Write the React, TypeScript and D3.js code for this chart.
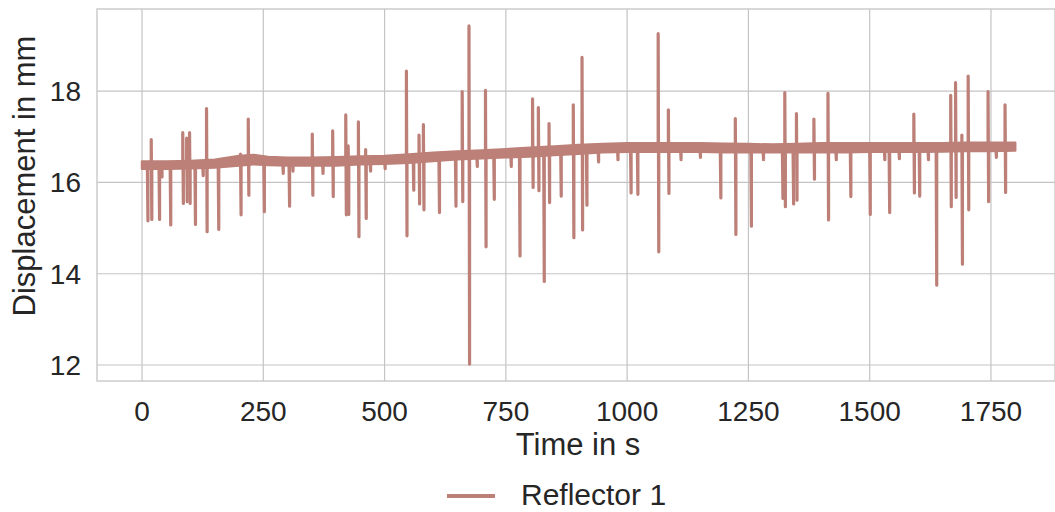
import React from 'react'
import * as d3 from 'd3'

// baseline noise envelope (time in s, displacement in mm)
const baseTimes = [0, 50, 100, 150, 200, 230, 260, 300, 350, 400, 450, 500, 550, 600, 650, 700, 750, 800, 850, 900, 950, 1000, 1050, 1100, 1150, 1200, 1250, 1300, 1350, 1400, 1450, 1500, 1550, 1600, 1650, 1700, 1750, 1800]
const baseLow = [16.3, 16.3, 16.31, 16.33, 16.37, 16.4, 16.38, 16.37, 16.37, 16.37, 16.4, 16.41, 16.43, 16.47, 16.51, 16.53, 16.55, 16.57, 16.6, 16.63, 16.66, 16.67, 16.67, 16.67, 16.67, 16.66, 16.66, 16.66, 16.66, 16.66, 16.66, 16.67, 16.67, 16.67, 16.68, 16.69, 16.69, 16.7]
const baseHigh = [16.46, 16.46, 16.47, 16.5, 16.58, 16.6, 16.56, 16.54, 16.54, 16.55, 16.57, 16.58, 16.61, 16.65, 16.68, 16.7, 16.73, 16.76, 16.79, 16.82, 16.84, 16.86, 16.86, 16.86, 16.86, 16.85, 16.84, 16.83, 16.84, 16.86, 16.86, 16.86, 16.86, 16.86, 16.86, 16.87, 16.87, 16.87]

// outlier spikes: time, peak above baseline (null = none), dip below baseline
const spikeTimes = [11, 19, 35, 40, 58, 84, 92, 98, 109, 125, 133, 157, 203, 219, 251, 290, 303, 310, 351, 372, 393, 420, 425, 446, 461, 470, 500, 545, 559, 571, 580, 612, 646, 660, 674, 690, 708, 725, 760, 778, 805, 817, 828, 839, 863, 889, 907, 916, 940, 980, 1007, 1021, 1064, 1085, 1110, 1150, 1192, 1223, 1255, 1280, 1320, 1325, 1342, 1349, 1385, 1414, 1430, 1460, 1500, 1530, 1540, 1560, 1591, 1602, 1620, 1637, 1667, 1677, 1690, 1703, 1744, 1760, 1779]
const spikeHigh = [null, 16.94, null, null, null, 17.09, 16.97, 17.09, null, null, 17.62, null, 16.62, 17.39, null, null, null, null, 17.06, null, 17.13, 17.48, 16.8, 17.33, 16.72, null, null, 18.44, null, 17.04, 17.27, null, null, 17.99, 19.43, null, 18.02, null, null, null, 17.83, 17.64, null, 17.29, null, 17.7, 18.74, null, null, null, null, null, 19.26, 17.59, null, null, null, 17.4, null, null, null, 17.97, null, 17.51, 17.39, 17.95, null, null, null, null, null, null, 17.5, null, null, null, 17.91, 18.19, 17.04, 18.33, 17.99, null, 17.7]
const spikeLow = [15.16, 15.19, 15.19, 16.12, 15.07, 15.54, 15.58, 15.54, 15.08, 16.15, 14.92, 14.97, 15.29, 15.72, 15.36, 16.2, 15.48, 16.25, 15.72, 16.2, 15.69, 15.29, 15.3, 14.81, 15.21, 16.25, 16.3, 14.83, 15.83, 15.53, 15.4, 15.34, 15.48, 15.58, 12.02, 16.35, 14.59, 15.63, 16.35, 14.39, 15.89, 15.82, 13.83, 15.56, 15.7, 14.79, 14.96, 15.5, 16.45, 16.5, 15.77, 15.74, 14.48, 15.76, 16.5, 16.55, 15.66, 14.86, 15.04, 16.5, 15.65, 15.47, 15.53, 15.61, 16.07, 15.18, 16.5, 15.69, 15.3, 16.5, 15.34, 16.52, 15.77, 15.7, 16.5, 13.75, 15.47, 15.67, 14.21, 15.4, 15.58, 16.55, 15.78]

const xTicks = [0, 250, 500, 750, 1000, 1250, 1500, 1750]
const yTicks = [12, 14, 16, 18]
const seriesName = 'Reflector 1'

const W = 1055
const H = 512
const left = 97
const right = 1055
const top = 9
const bottom = 381
const color = '#bd8078'
const ink = '#262626'
const font = 'Liberation Sans, Arial, sans-serif'

export default function App() {
  const x = d3.scaleLinear().domain([-92.8, 1882]).range([left, right])
  const y = d3.scaleLinear().domain([11.65, 19.8]).range([bottom, top])

  const band = d3.area<number>()
    .x(i => x(baseTimes[i]))
    .y0(i => y(baseLow[i]))
    .y1(i => y(baseHigh[i]))
  const bandPath = band(baseTimes.map((_, i) => i)) || ''

  // midpoint of the baseline band at time t
  const baseAt = (t: number) => {
    const j = Math.min(d3.bisectLeft(baseTimes, t), baseTimes.length - 1)
    return (baseLow[j] + baseHigh[j]) / 2
  }
  const line = d3.line<[number, number]>().x(d => x(d[0])).y(d => y(d[1]))

  return (
    <svg width={W} height={H} style={{ position: 'absolute', left: 0, top: 0, background: '#fff' }}>
      <rect x={left} y={top} width={right - left} height={bottom - top} fill="none" stroke="#cccccc" strokeWidth={1.5} />
      {xTicks.map(t => (
        <line key={'gx' + t} x1={x(t)} x2={x(t)} y1={top} y2={bottom} stroke="#c4c4c4" strokeWidth={1.2} />
      ))}
      {yTicks.map(t => (
        <line key={'gy' + t} x1={left} x2={right} y1={y(t)} y2={y(t)} stroke="#c4c4c4" strokeWidth={1.2} />
      ))}
      <path d={bandPath} fill={color} stroke={color} strokeWidth={2.5} strokeLinejoin="round" />
      {spikeTimes.map((t, i) => {
        const b = baseAt(t)
        const hi = spikeHigh[i] ?? b
        const pts: [number, number][] = [[t, b], [t, hi], [t + 1.2, spikeLow[i]], [t + 1.2, b]]
        return <path key={'s' + i} d={line(pts) || ''} fill="none" stroke={color} strokeWidth={3.2} strokeLinejoin="round" strokeLinecap="round" />
      })}
      {xTicks.map(t => (
        <text key={'tx' + t} x={x(t)} y={421} textAnchor="middle" fontFamily={font} fontSize={28} fill={ink}>{t}</text>
      ))}
      {yTicks.map(t => (
        <text key={'ty' + t} x={81} y={y(t) + 10} textAnchor="end" fontFamily={font} fontSize={28} fill={ink}>{t}</text>
      ))}
      <text x={578} y={455} textAnchor="middle" fontFamily={font} fontSize={31} fill={ink}>Time in s</text>
      <text transform={`translate(35, 176) rotate(-90)`} textAnchor="middle" fontFamily={font} fontSize={31} fill={ink}>Displacement in mm</text>
      <line x1={447} x2={495} y1={496} y2={496} stroke={color} strokeWidth={4} />
      <text x={521} y={505} fontFamily={font} fontSize={30} fill={ink}>{seriesName}</text>
    </svg>
  )
}
